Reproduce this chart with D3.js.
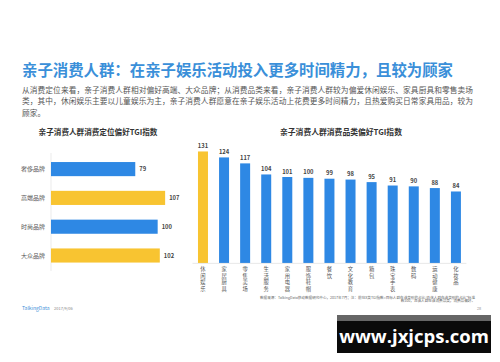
<!DOCTYPE html>
<html>
<head>
<meta charset="utf-8">
<script src="https://cdn.jsdelivr.net/npm/d3@7"></script>
<style>
  body { margin: 0; background: #fff; }
  svg { display: block; font-family: "Noto Sans CJK SC", "Noto Sans", sans-serif; }
</style>
</head>
<body>
<div id="chart"></div>
<script>
// Left chart: consumption positioning TGI
var posCategories = ["奢侈品牌", "高端品牌", "时尚品牌", "大众品牌"];
var posValues = [79, 107, 100, 102];
var posHighlight = [false, true, false, true];

// Right chart: consumption category TGI
var catCategories = ["休闲娱乐", "家居厨具", "零售卖场", "生活服务", "家用电器", "服饰鞋帽",
  "餐饮", "文化教育", "箱包", "珠宝手表", "数码", "运动健康", "化妆品"];
var catValues = [131, 124, 117, 104, 101, 100, 99, 98, 95, 91, 90, 88, 84];
var catHighlight = [true, false, false, false, false, false, false, false, false, false, false, false, false];

var title = "亲子消费人群：在亲子娱乐活动投入更多时间精力，且较为顾家";
var paragraph = [
  "从消费定位来看，亲子消费人群相对偏好高端、大众品牌；从消费品类来看，亲子消费人群较为偏爱休闲娱乐、家具厨具和零售卖场",
  "类，其中，休闲娱乐主要以儿童娱乐为主，亲子消费人群愿意在亲子娱乐活动上花费更多时间精力，且热爱购买日常家具用品，较为",
  "顾家。"
];
var footnote = [
  "数据来源：TalkingData移动数据研究中心，2017年7月；注：前往X类TGI指数=目标人群在该类别的占比/总体人群在该类别的占比*标准",
  "数100，且该人群在该消费品类，消费品偏好。"
];

var width = 500, height = 362;
var blue = "#2e88e4", yellow = "#f8c431";

var svg = d3.select("#chart").append("svg")
  .attr("width", width)
  .attr("height", height);

// Page title
svg.append("text")
  .attr("x", 22).attr("y", 75.5)
  .attr("fill", "#3a8fd9")
  .attr("font-size", 15.4)
  .attr("font-weight", "bold")
  .text(title);

// Intro paragraph (first two lines justified)
svg.selectAll(".para")
  .data(paragraph)
  .enter()
  .append("text")
  .attr("class", "para")
  .attr("x", 22)
  .attr("y", function(d, i) { return 93 + i * 11.4; })
  .attr("fill", "#555")
  .attr("font-size", 7.7)
  .each(function(d, i) {
    if (i < 2) d3.select(this).attr("textLength", 451).attr("lengthAdjust", "spacing");
  })
  .text(function(d) { return d; });

// ---- Left chart ----
var left = svg.append("g");

left.append("text")
  .attr("x", 98).attr("y", 135)
  .attr("text-anchor", "middle")
  .attr("fill", "#333")
  .attr("font-size", 7.6)
  .attr("font-weight", "bold")
  .text("亲子消费人群消费定位偏好TGI指数");

var xLeft = d3.scaleLinear().domain([0, 120]).range([51, 179]);
var yLeft = d3.scaleBand().domain(posCategories).range([153.4, 271.2])
  .paddingInner(0.51).paddingOuter(0.3);

left.append("line")
  .attr("x1", xLeft(0)).attr("x2", xLeft(0))
  .attr("y1", 153).attr("y2", 271)
  .attr("stroke", "#e6e6e6").attr("stroke-width", 0.8);

left.selectAll(".pos-bar")
  .data(posValues)
  .enter()
  .append("rect")
  .attr("class", "pos-bar")
  .attr("x", xLeft(0))
  .attr("y", function(d, i) { return yLeft(posCategories[i]); })
  .attr("width", function(d) { return xLeft(d) - xLeft(0); })
  .attr("height", yLeft.bandwidth())
  .attr("fill", function(d, i) { return posHighlight[i] ? yellow : blue; });

left.selectAll(".pos-val")
  .data(posValues)
  .enter()
  .append("text")
  .attr("class", "pos-val")
  .attr("x", function(d) { return xLeft(d) + 4; })
  .attr("y", function(d, i) { return yLeft(posCategories[i]) + yLeft.bandwidth() / 2 + 2; })
  .attr("fill", "#444")
  .attr("font-size", 5.8)
  .attr("font-weight", "bold")
  .text(function(d) { return d; });

left.selectAll(".pos-cat")
  .data(posCategories)
  .enter()
  .append("text")
  .attr("class", "pos-cat")
  .attr("x", 45)
  .attr("y", function(d) { return yLeft(d) + yLeft.bandwidth() / 2 + 2; })
  .attr("text-anchor", "end")
  .attr("fill", "#555")
  .attr("font-size", 6)
  .text(function(d) { return d; });

// ---- Right chart ----
var right = svg.append("g");

right.append("text")
  .attr("x", 341).attr("y", 135)
  .attr("text-anchor", "middle")
  .attr("fill", "#333")
  .attr("font-size", 7.8)
  .attr("font-weight", "bold")
  .text("亲子消费人群消费品类偏好TGI指数");

var xRight = d3.scaleBand().domain(catCategories).range([192.5, 466.4])
  .paddingInner(0.526).paddingOuter(0.26);
var yRight = d3.scaleLinear().domain([0, 140]).range([263, 143.8]);

right.selectAll(".cat-bar")
  .data(catValues)
  .enter()
  .append("rect")
  .attr("class", "cat-bar")
  .attr("x", function(d, i) { return xRight(catCategories[i]); })
  .attr("y", function(d) { return yRight(d); })
  .attr("width", xRight.bandwidth())
  .attr("height", function(d) { return yRight(0) - yRight(d); })
  .attr("fill", function(d, i) { return catHighlight[i] ? yellow : blue; });

right.append("line")
  .attr("x1", 192.5).attr("x2", 466.4)
  .attr("y1", yRight(0) + 0.4).attr("y2", yRight(0) + 0.4)
  .attr("stroke", "#e3e3e3").attr("stroke-width", 0.8);

right.selectAll(".cat-val")
  .data(catValues)
  .enter()
  .append("text")
  .attr("class", "cat-val")
  .attr("x", function(d, i) { return xRight(catCategories[i]) + xRight.bandwidth() / 2; })
  .attr("y", function(d) { return yRight(d) - 3.5; })
  .attr("text-anchor", "middle")
  .attr("fill", "#444")
  .attr("font-size", 5.8)
  .attr("font-weight", "bold")
  .text(function(d) { return d; });

// Vertical category labels, one character per line
right.selectAll(".cat-lab")
  .data(catCategories)
  .enter()
  .append("text")
  .attr("class", "cat-lab")
  .attr("text-anchor", "middle")
  .attr("fill", "#555")
  .attr("font-size", 5.3)
  .each(function(d) {
    var cx = xRight(d) + xRight.bandwidth() / 2;
    var t = d3.select(this);
    d.split("").forEach(function(ch, j) {
      t.append("tspan").attr("x", cx).attr("y", 271 + j * 6.6).text(ch);
    });
  });

// Footnote
svg.selectAll(".foot")
  .data(footnote)
  .enter()
  .append("text")
  .attr("class", "foot")
  .attr("x", 475)
  .attr("y", function(d, i) { return 298.5 + i * 3.8; })
  .attr("text-anchor", "end")
  .attr("fill", "#666")
  .attr("font-size", 3.6)
  .text(function(d) { return d; });

svg.append("text")
  .attr("x", 477).attr("y", 309.5)
  .attr("fill", "#888").attr("font-size", 3.8)
  .text("28");

svg.append("text")
  .attr("x", 22).attr("y", 310)
  .attr("fill", "#3d8fd8").attr("font-size", 5)
  .text("TalkingData");

svg.append("text")
  .attr("x", 54).attr("y", 310)
  .attr("fill", "#888").attr("font-size", 4)
  .text("2017/9/06");

// Watermark box
svg.append("rect")
  .attr("x", 337).attr("y", 315).attr("width", 154).attr("height", 38)
  .attr("fill", "#0a0a0a");
svg.append("rect")
  .attr("x", 337).attr("y", 315).attr("width", 154).attr("height", 6)
  .attr("fill", "#666");
svg.append("text")
  .attr("x", 414).attr("y", 343)
  .attr("text-anchor", "middle")
  .attr("fill", "#fff")
  .attr("font-size", 18.5)
  .attr("font-weight", "bold")
  .attr("font-family", "Open Sans, DejaVu Sans, sans-serif")
  .text("www.jxjcps.com");
</script>
</body>
</html>
